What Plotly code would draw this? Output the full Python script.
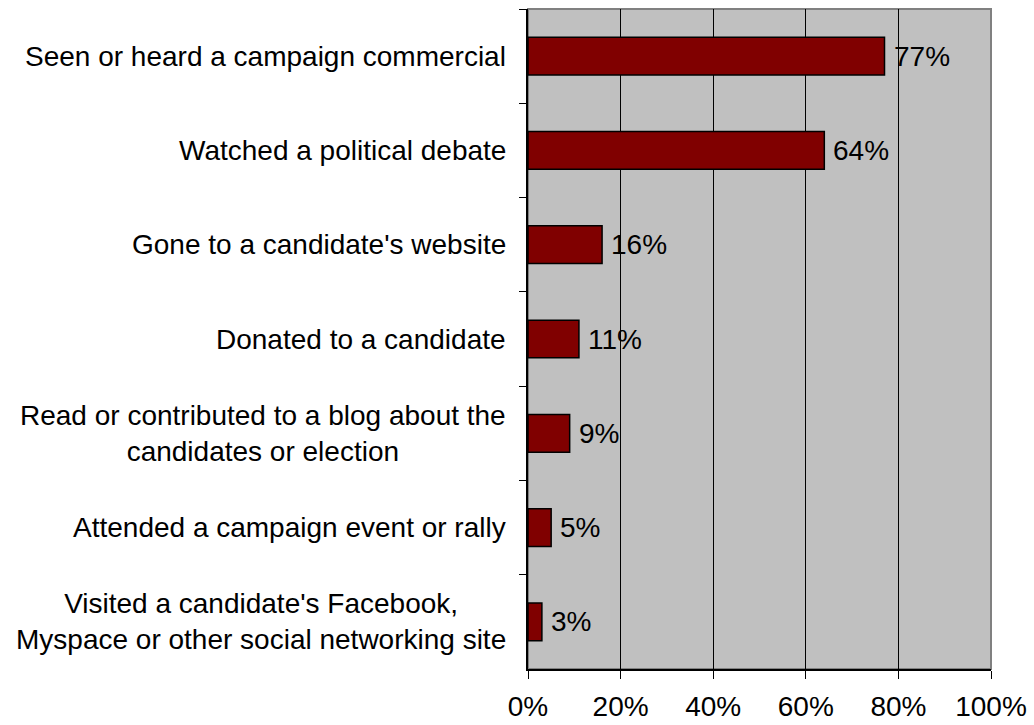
import plotly.graph_objects as go

# Survey items, top to bottom, with share of respondents (%)
categories = [
    "Seen or heard a campaign commercial",
    "Watched a political debate",
    "Gone to a candidate's website",
    "Donated to a candidate",
    "Read or contributed to a blog about the<br>candidates or election",
    "Attended a campaign event or rally",
    "Visited a candidate's Facebook,<br>Myspace or other social networking site",
]
values = [77, 64, 16, 11, 9, 5, 3]
x_ticks = [0, 20, 40, 60, 80, 100]
x_tick_labels = [f"{t}%" for t in x_ticks]

FONT = "Liberation Sans, Arial, sans-serif"
SIZE = 28

fig = go.Figure()
fig.add_trace(go.Bar(
    x=values,
    y=categories,
    orientation="h",
    width=0.4,
    marker=dict(color="#800000", line=dict(color="#000000", width=1.5)),
    hoverinfo="skip",
))

# Value labels just right of each bar end
for cat, v in zip(categories, values):
    fig.add_annotation(
        x=v, xref="x", xanchor="left", xshift=7,
        y=cat, yref="y", yanchor="middle",
        text=f"{v}%", showarrow=False,
        font=dict(family=FONT, size=SIZE, color="#000000"),
    )

# Category labels, centred line-by-line and right-aligned against the axis
for cat in categories:
    fig.add_annotation(
        x=0, xref="paper", xanchor="right", xshift=-20,
        y=cat, yref="y", yanchor="middle",
        text=cat, align="center", showarrow=False,
        font=dict(family=FONT, size=SIZE, color="#000000"),
    )

# Grey frame of the plotting area
fig.add_shape(type="rect", xref="paper", yref="paper", x0=0, x1=1, y0=0, y1=1,
              line=dict(color="#808080", width=2), layer="below")

fig.update_layout(
    width=1034, height=725,
    margin=dict(l=528, r=43, t=9, b=56, autoexpand=False),
    paper_bgcolor="#FFFFFF",
    plot_bgcolor="#C0C0C0",
    showlegend=False,
    font=dict(family=FONT, size=SIZE, color="#000000"),
)
fig.update_xaxes(
    range=[0, 100],
    tickvals=x_ticks, ticktext=x_tick_labels,
    showgrid=True, gridcolor="#000000", gridwidth=1,
    showline=True, linecolor="#000000", linewidth=1.5,
    ticks="outside", ticklen=8, tickcolor="#000000", tickwidth=1,
    tickfont=dict(family=FONT, size=SIZE, color="#000000"),
    ticklabelstandoff=4,
    automargin=False,
    zeroline=False, fixedrange=True,
)
fig.update_yaxes(
    type="category",
    autorange="reversed",
    showticklabels=False,
    tickson="boundaries",
    ticks="outside", ticklen=7, tickcolor="#000000", tickwidth=1,
    showgrid=False,
    showline=True, linecolor="#000000", linewidth=1.5,
    automargin=False,
    fixedrange=True,
)

fig.write_html("out.html")
